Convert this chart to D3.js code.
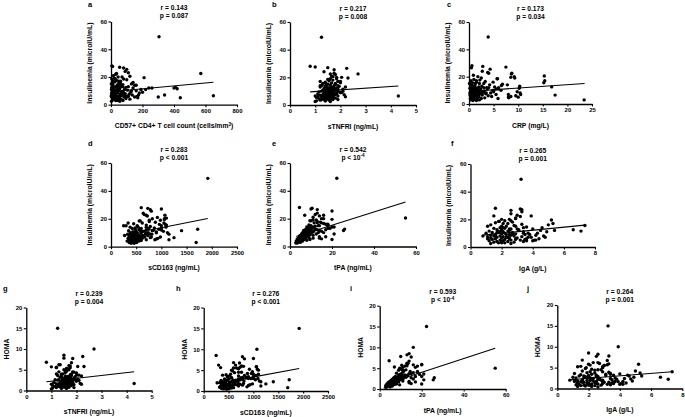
<!DOCTYPE html>
<html><head><meta charset="utf-8">
<script src="https://cdn.jsdelivr.net/npm/d3@7"></script>
<style>
body{margin:0;background:#fff}
svg{display:block}
text{font-family:"Liberation Sans",Arial,sans-serif;font-weight:bold;fill:#000}
</style>
</head><body>
<svg id="chart" width="685" height="417"></svg>
<script>
// ---- per-patient values ----
const insulin=[49,28,27.5,26.5,22.5,6.5,20.5,3,12.5,11.5,15.5,17,19.5,5,12,5.5,7,12,12,11,
24,23,22,21,20,20,19,18.5,18,17.5,17,16.5,16,15.5,15,15,14.5,14,14,13.5,
13,13,12.5,12.5,12,12,11.5,11.5,11,11,10.5,10.5,10,10,10,9.5,9.5,9,9,9,
8.5,8.5,8.5,8,8,8,7.5,7.5,7.5,7,7,7,6.5,6.5,6.5,6,6,6,5.5,5.5,
5.5,5,5,5,4.5,4.5,4.5,4,4,4,3.5,3.5,3,3,2.5,2.5,13,9,14,10,
7,16,11,6,25.5,27,22.5,19,18.5,13.5,4.5,5,8,10,15,15,8,14,6,9,
17,11,7,9.5,12.5,10.5,6,8,13,4];
const homa=[15,6.8,5.7,8.2,10,1.7,5,0.8,2.7,2.2,4,3.7,5.8,1.2,3,1.3,1.8,3.1,2.9,2.6,
6.2,5.5,6.7,5.2,7.7,5.8,4.6,5,6,4.2,4.4,3.9,5.2,4.5,3.6,6.2,3.2,3.8,4,3.3,
5.5,2.9,3,3.4,2.6,3.2,2.5,3.7,2.4,2.8,2.2,3,2.3,2.5,2.7,2,2.6,1.9,2.1,2.4,
1.8,2.2,1.7,1.9,2,1.6,1.5,1.9,1.7,1.4,1.6,1.5,1.3,1.5,1.4,1.2,1.3,1.5,1.1,1.2,
1,1,1.2,1.1,0.9,1,0.8,0.8,0.9,0.7,0.7,0.8,0.6,0.5,0.5,0.4,3.5,2.2,3,2.4,
1.7,4.2,2.7,1.5,5.9,7.8,5.3,4.5,4.8,3.4,1.2,1,2.3,3.4,4,8.5,2,3.6,1.9,2.8,
5.6,2.6,1.8,2.4,3.1,2.6,1.6,2.1,3.2,1];
const cd57=[305,5,10,80,570,650,120,40,410,420,60,50,210,440,400,300,340,260,240,220,
90,110,30,15,70,45,20,5,100,35,60,25,8,50,130,2,75,40,150,12,
65,28,95,5,140,38,55,18,85,3,105,22,48,160,10,68,32,125,6,78,
42,15,180,26,90,4,58,115,20,72,9,135,35,62,2,98,45,14,82,28,
150,52,7,170,38,95,16,64,24,120,44,11,76,30,56,3,110,200,160,130,
175,140,190,165,100,55,35,25,80,60,45,30,70,20,12,5,8,40,3,65,
15,48,88,25,52,36,110,18,75,58];
const stnfri=[1.25,0.8,1,2.25,2.7,4.3,1.7,1.4,1.9,1.6,1.8,2,2.3,1.5,1.7,1.5,1.4,1.6,1.55,1.45,
1.35,1.75,1.8,1.65,1.85,2.05,1.6,1.5,1.7,1.55,1.9,1.4,1.65,1.3,1.8,1.3,1.6,1.75,1.2,1.95,
1.2,1.45,1.7,1.55,1.85,1.35,1.65,2.1,1.5,1.8,1.4,1.6,1.75,1.25,1.9,1.55,1.15,1.7,1.45,2,
1.35,1.6,1.85,1.1,1.5,1.7,1.3,1.65,2.15,1.45,1.2,1.75,1.55,1,1.9,1.35,1.6,1.25,1.7,1.05,
1.5,1.4,1.8,1.3,1.6,1.15,1.45,1.7,1.35,1.9,1.2,1.55,1.05,1.4,1.6,1,2.2,2,1.9,2.1,
1.6,2,1.9,2.2,1.75,1.5,1.6,1.85,1.55,1.4,1.7,1.3,1.8,1.65,1.45,1.5,1.85,1.25,1.1,2.05,
1.2,1.5,1.35,1.6,1.75,1.3,1.55,1.45,1.65,1.25];
const crp=[3.9,0.6,2.8,0.5,4,17.5,15.3,23.4,16.8,10.2,15.2,15.4,8.5,8,6,8.5,10.5,4,3,5.5,
2.7,3.8,8.6,0.9,9.2,1.8,2.5,5.8,1,2.2,0.4,3.3,1.5,0.7,3,2.1,6.8,0.3,4.2,1.2,
0.8,2.6,5.2,1.1,0.5,3.6,1.6,0.2,2.4,6,0.9,1.9,4.8,0.6,1.4,3.1,0.4,2,5,1.3,
0.7,2.9,1.7,0.3,4.4,1,2.3,0.5,3.4,1.2,0.8,5.5,1.6,0.2,2.7,0.6,3.9,1.1,0.4,2,
4.6,0.9,1.8,0.5,3.2,1.4,0.7,2.5,0.3,5.9,1,0.6,2.1,0.4,1.5,0.8,10.3,9.8,7.8,6.5,
8,4.9,3.7,9.5,4.3,7.5,8.7,9.3,5.7,6.6,8.1,10,10.4,5,1.3,0.1,0.2,0.5,1.7,2.6,
1.5,0.9,1.9,0.7,2,1.3,0.9,3.5,1.1,1.6];
const scd163=[1920,600,730,780,1070,1250,1100,1690,1720,1400,1100,1050,1060,1150,1000,900,800,850,700,650,
640,660,720,920,820,1060,980,560,760,880,620,450,1080,700,520,300,780,380,540,860,
600,420,950,480,700,560,350,820,640,500,430,900,380,600,740,520,470,690,330,810,
410,560,460,390,620,730,480,530,360,580,440,670,400,510,780,340,470,620,420,550,
380,460,700,350,500,440,600,390,320,560,420,470,360,510,400,460,1000,1150,1090,1120,
980,960,1040,930,800,1000,700,760,580,480,520,870,640,900,1000,250,270,700,420,780,
340,600,520,690,560,450,600,430,750,480];
const tpa=[22.3,4.5,10.5,13,16,9,55,4,26,25.5,18,15,20,20,17,15,14,13,12,11,
13,12,14,11,15,16,12.5,9.5,13,14.5,11.5,16,17,9,10,13.5,12,8,11,10.5,
18,9,7.5,12,8.5,10,6.5,14,9.5,7,8,11,6,8.5,10,7.5,6.5,9,5.5,8,
7,9.5,6,5,7.5,6.5,5.5,8,4.5,6.5,7,5,6,4.5,7.5,5,6,4,5.5,3.5,
6.5,4.5,5,7,4,5.5,3.5,4.5,3,6,3.5,4,3,5,3.5,2.8,19,21,20,16,
17,18,15,14,20,10,7,11,10,9,8,9.5,11,13.5,18,14,9,21,11,12.5,
13,7.5,8,10,12,9,7,7,10,5];
const iga=[3.25,1.6,3.2,2.6,3.9,2.5,2.9,2,6.6,7.1,7.35,5.3,5.2,4.1,5.4,3.5,4.8,3.1,2.5,2.1,
2.6,3,3.2,2.9,2.5,2,2.2,1.85,2.7,1.6,2.4,3.3,1.3,2.8,1.1,2.3,3.6,1.9,2.1,1.5,
3,2.6,1.7,3.1,2,4.5,1.2,2.4,3.4,1.8,2.7,1.4,2.2,3.7,1,2.9,2,1.6,3.5,2.3,
1.3,2.6,4.2,1.9,2.8,1.5,3.3,2.1,1.1,2.4,3.9,1.7,2,3,1.3,2.5,4.4,1.6,2.2,2.9,
1.4,3.2,1.9,2.6,1.2,4,2.1,1.7,3.4,2.4,1.5,2.8,1.8,2.2,1.3,2.6,4,3.8,4.6,4.3,
3.7,5,4.9,3.6,3.3,3.3,1.5,2.6,1.8,2.2,3.6,4.2,4.7,3.4,2.9,2,0.8,3.4,1.1,2.5,
2.1,1.9,2.3,2.7,2,1.7,2.9,1.6,2.5,2];

// ---- panel definitions ----
const panelIds=['a','b','c','d','e','f','g','h','i','j'];
const xSeries=[cd57,stnfri,crp,scd163,tpa,iga,stnfri,scd163,tpa,iga];
const ySeries=[insulin,insulin,insulin,insulin,insulin,insulin,homa,homa,homa,homa];
const xTitles=['CD57+ CD4+ T cell count (cells/mm','sTNFRI (ng/mL)','CRP (mg/L)','sCD163 (ng/mL)','tPA (ng/mL)','IgA (g/L)','sTNFRI (ng/mL)','sCD163 (ng/mL)','tPA (ng/mL)','IgA (g/L)'];
const yTitles=['Insulinemia (microIU/mL)','Insulinemia (microIU/mL)','Insulinemia (microIU/mL)','Insulinemia (microIU/mL)','Insulinemia (microIU/mL)','Insulinemia (microIU/mL)','HOMA','HOMA','HOMA','HOMA'];
const xTicks=[[0,200,400,600,800],[0,1,2,3,4,5],[0,5,10,15,20,25],[0,500,1000,1500,2000,2500],[0,20,40,60],[0,2,4,6,8],[0,1,2,3,4,5],[0,500,1000,1500,2000,2500],[0,20,40,60],[0,2,4,6,8]];
const insulinTicks=[0,20,40,60];
const homaTicks=[0,5,10,15,20];
const rValues=['0.143','0.217','0.173','0.283','0.542','0.265','0.239','0.276','0.593','0.264'];
const pValues=['= 0.087','= 0.008','= 0.034','< 0.001','< 10','= 0.001','= 0.004','< 0.001','< 10','= 0.001'];
const pExponents=['','','','','-4','','','','-4',''];
// regression lines: [x start, y start, x end, y end] in data units
const fitStartX=[0,0.8,0,250,3,0.8,0.8,250,3,0.8];
const fitStartY=[9.3,9.5,9.2,8.2,7.2,8.6,2.1,1.7,1.2,2.1];
const fitEndX=[650,4.3,23.5,1920,55,7.35,4.3,1920,55,7.35];
const fitEndY=[16.2,13.7,15,20.2,32,15.8,4.5,5.4,9.8,4.0];

// ---- layout (pixels) ----
const layout=[
 {x0:111,x1:237,yT:21.5,yB:104.7,lx:88,ly:7},
 {x0:290,x1:416,yT:22,yB:105,lx:272,ly:7},
 {x0:469,x1:592,yT:22,yB:104,lx:447,ly:7},
 {x0:111,x1:237,yT:163,yB:246.7,lx:88,ly:146},
 {x0:290,x1:416,yT:163,yB:246.5,lx:272,ly:146},
 {x0:470.5,x1:595,yT:164,yB:247,lx:451,ly:146},
 {x0:26.3,x1:151.7,yT:307.5,yB:390.5,lx:3,ly:291},
 {x0:203.7,x1:328,yT:307.5,yB:391,lx:176,ly:291},
 {x0:379.7,x1:505.7,yT:305.7,yB:389,lx:350,ly:291},
 {x0:557.3,x1:682.3,yT:305,yB:388.5,lx:527,ly:291}
];

const svg=d3.select('#chart');
svg.append('rect').attr('width',685).attr('height',417).attr('fill','#fff');

panelIds.forEach((id,k)=>{
  const L=layout[k];
  const xt=xTicks[k];
  const yt=k<6?insulinTicks:homaTicks;
  const xs=d3.scaleLinear().domain([xt[0],xt[xt.length-1]]).range([L.x0,L.x1]);
  const ys=d3.scaleLinear().domain([yt[0],yt[yt.length-1]]).range([L.yB,L.yT]);
  const g=svg.append('g');

  const ax=g.append('g').attr('transform',`translate(0,${L.yB})`)
    .call(d3.axisBottom(xs).tickValues(xt).tickSize(2.5).tickSizeOuter(0).tickPadding(1.5).tickFormat(d3.format('d')));
  const ay=g.append('g').attr('transform',`translate(${L.x0},0)`)
    .call(d3.axisLeft(ys).tickValues(yt).tickSize(2.5).tickSizeOuter(0).tickPadding(1.5).tickFormat(d3.format('d')));
  [ax,ay].forEach(a=>{
    a.select('.domain').attr('stroke','#000').attr('stroke-width',1.3);
    a.selectAll('.tick line').attr('stroke','#000').attr('stroke-width',1.1);
    a.selectAll('.tick text').attr('font-size',5.9).attr('font-family','"Liberation Sans",Arial,sans-serif').attr('font-weight','bold').attr('fill','#000');
  });

  const xv=xSeries[k], yv=ySeries[k];
  g.append('g').selectAll('circle').data(d3.range(xv.length)).join('circle')
    .attr('cx',i=>xs(xv[i])).attr('cy',i=>ys(yv[i])).attr('r',1.7).attr('fill','#000');

  g.append('line')
    .attr('x1',xs(fitStartX[k])).attr('y1',ys(fitStartY[k]))
    .attr('x2',xs(fitEndX[k])).attr('y2',ys(fitEndY[k]))
    .attr('stroke','#000').attr('stroke-width',1.1);

  const cx=(L.x0+L.x1)/2;
  g.append('text').attr('x',cx).attr('y',L.yT-11.5).attr('text-anchor','middle').attr('font-size',6.7)
    .text('r = '+rValues[k]);
  const pt=g.append('text').attr('x',cx).attr('y',L.yT-3.5).attr('text-anchor','middle').attr('font-size',6.7);
  pt.append('tspan').text('p '+pValues[k]);
  if(pExponents[k]) pt.append('tspan').attr('dy',-2.5).attr('font-size',4.6).text(pExponents[k]);

  const xtEl=g.append('text').attr('x',cx).attr('y',L.yB+23.5).attr('text-anchor','middle').attr('font-size',6.8);
  xtEl.append('tspan').text(xTitles[k]);
  if(k===0){
    xtEl.append('tspan').attr('dy',-2.5).attr('font-size',4.6).text('3');
    xtEl.append('tspan').attr('dy',2.5).text(')');
  }
  const yx=k<6?L.x0-19.5:L.x0-17;
  g.append('text').attr('transform',`translate(${yx},${(L.yT+L.yB)/2}) rotate(-90)`)
    .attr('text-anchor','middle').attr('font-size',6.8).text(yTitles[k]);

  g.append('text').attr('x',L.lx).attr('y',L.ly).attr('font-size',7.5).text(id);
});
</script>
</body></html>
